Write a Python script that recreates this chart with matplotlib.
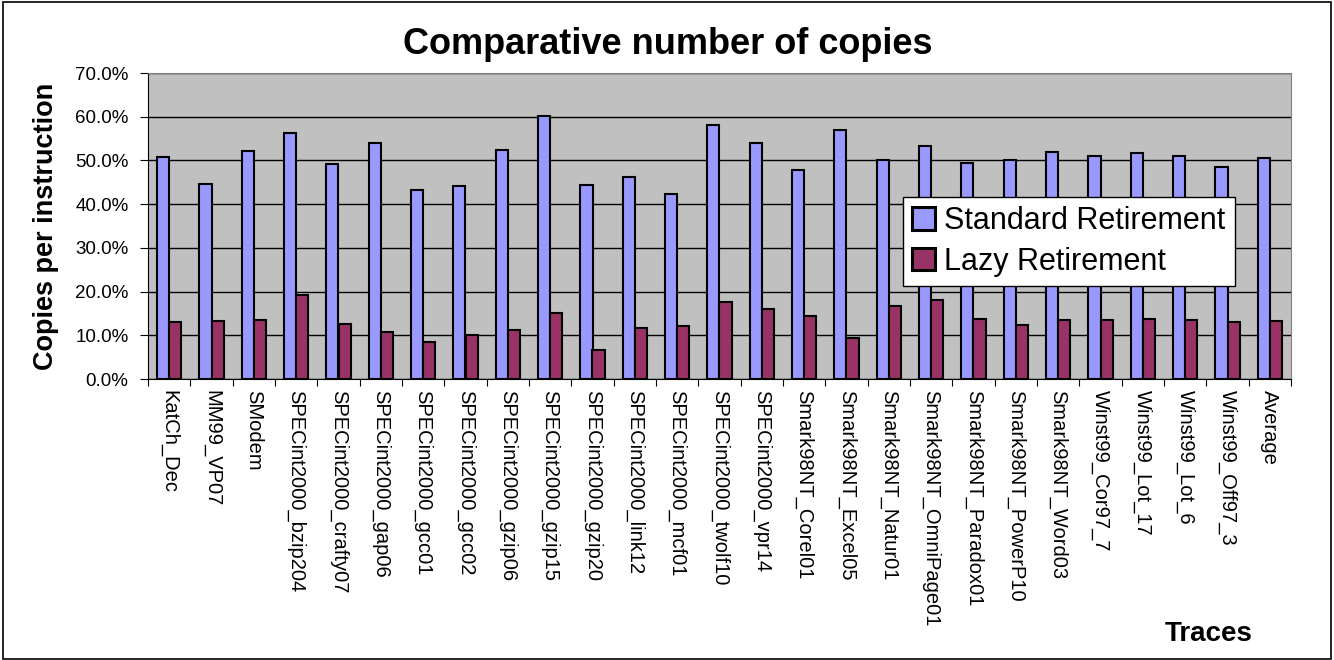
import numpy as np
import matplotlib
matplotlib.use("Agg")
import matplotlib.pyplot as plt
from matplotlib.patches import Rectangle

traces = ["KatCh_Dec", "MM99_VP07", "SModem", "SPECint2000_bzip204",
          "SPECint2000_crafty07", "SPECint2000_gap06", "SPECint2000_gcc01",
          "SPECint2000_gcc02", "SPECint2000_gzip06", "SPECint2000_gzip15",
          "SPECint2000_gzip20", "SPECint2000_link12", "SPECint2000_mcf01",
          "SPECint2000_twolf10", "SPECint2000_vpr14", "Smark98NT_Corel01",
          "Smark98NT_Excel05", "Smark98NT_Natur01", "Smark98NT_OmniPage01",
          "Smark98NT_Paradox01", "Smark98NT_PowerP10", "Smark98NT_Word03",
          "Winst99_Cor97_7", "Winst99_Lot_17", "Winst99_Lot_6",
          "Winst99_Off97_3", "Average"]

standard = [50.8, 44.7, 52.1, 56.3, 49.2, 53.9, 43.2, 44.1, 52.3, 60.2,
            44.4, 46.3, 42.4, 58.0, 54.0, 47.7, 57.0, 50.0, 53.4,
            49.5, 50.2, 52.0, 51.1, 51.7, 50.9, 48.6, 50.5]
lazy = [13.1, 13.2, 13.5, 19.2, 12.5, 10.7, 8.5, 10.0, 11.3, 15.1,
        6.7, 11.7, 12.2, 17.7, 16.0, 14.4, 9.4, 16.8, 18.0,
        13.8, 12.3, 13.5, 13.6, 13.7, 13.5, 13.0, 13.2]

yticks = np.arange(0, 71, 10)

plt.rcParams['font.family'] = ['Liberation Sans', 'DejaVu Sans']

fig = plt.figure(figsize=(13.34, 6.6), dpi=100)
fig.patches.append(Rectangle((0.002, 0.002), 0.996, 0.995, transform=fig.transFigure,
                             fill=False, edgecolor='black', linewidth=1.2))

ax = fig.add_axes([148 / 1334, 1 - 379 / 660, (1291 - 148) / 1334, (379 - 73) / 660])
ax.set_facecolor('#C0C0C0')

x = np.arange(len(traces))
w = 1 / 3.5
ax.bar(x - w / 2, standard, w, color='#9999FF', edgecolor='black', linewidth=1.5,
       label='Standard Retirement', zorder=3)
ax.bar(x + w / 2, lazy, w, color='#993366', edgecolor='black', linewidth=1.5,
       label='Lazy Retirement', zorder=3)

ax.set_xlim(-0.5, len(traces) - 0.5)
ax.set_ylim(0, 70)
ax.set_yticks(yticks)
ax.set_yticklabels(["%.1f%%" % v for v in yticks], fontsize=13.5)
ax.yaxis.grid(True, color='black', linewidth=1)
ax.set_axisbelow(True)

# category boundaries get the tick marks, labels sit on the centres
ax.set_xticks(np.arange(len(traces) + 1) - 0.5)
ax.set_xticklabels([])
ax.set_xticks(x, minor=True)
ax.set_xticklabels(traces, minor=True, rotation=270, fontsize=14.5,
                   va='top', ha='center')
ax.tick_params(axis='x', which='minor', length=0, pad=8)
ax.tick_params(axis='x', which='major', length=5, direction='out')
ax.tick_params(axis='y', length=6, direction='out', pad=8)

for side in ['top', 'right']:
    ax.spines[side].set_color('#808080')
for side in ['left', 'bottom']:
    ax.spines[side].set_color('black')

ax.set_ylabel('Copies per instruction', fontsize=19.5, fontweight='bold', labelpad=12)

fig.text(668 / 1334, 1 - 45 / 660, 'Comparative number of copies', ha='center', va='center',
         fontsize=26, fontweight='bold')
fig.text(1209 / 1334, 1 - 634 / 660, 'Traces', ha='center', va='center',
         fontsize=20, fontweight='bold')

leg = ax.legend(loc='upper left', bbox_to_anchor=((903 - 148) / 1143, (379 - 197) / 306),
                fontsize=22, frameon=True, fancybox=False, shadow=False,
                handlelength=0.75, handleheight=0.75, handletextpad=0.3,
                borderpad=0.3, labelspacing=0.35, borderaxespad=0)
leg.get_frame().set_edgecolor('black')
leg.get_frame().set_linewidth(1)
leg.get_frame().set_alpha(1)
for h in leg.legend_handles:
    h.set_linewidth(2.2)

fig.savefig('out.png', dpi=100)
